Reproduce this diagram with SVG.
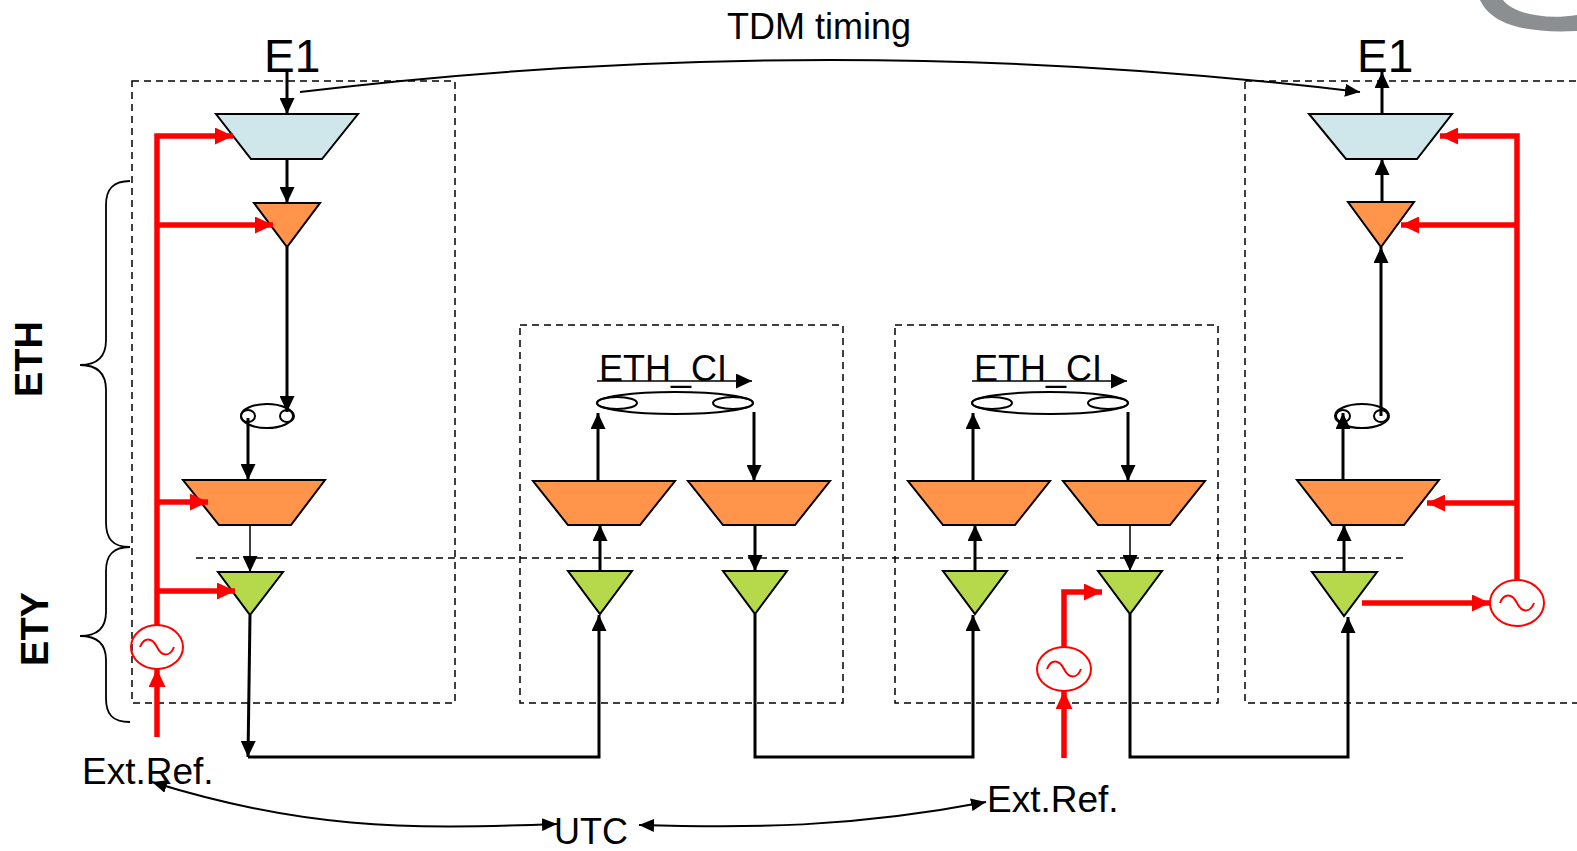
<svg xmlns="http://www.w3.org/2000/svg" width="1577" height="851" viewBox="0 0 1577 851">
<style>
.blk{stroke:#000;stroke-width:3;fill:none}
.thin{stroke:#000;stroke-width:1.5;fill:none}
.cur{stroke:#000;stroke-width:2;fill:none}
.red{stroke:#f00;stroke-width:5.5;fill:none}
.dash{stroke:#000;stroke-width:1.5;stroke-dasharray:7 5;fill:none}
.shape{stroke:#000;stroke-width:2;stroke-linejoin:miter}
.adapt{fill:#CFE7EB}
.orange{fill:#FF944A}
.green{fill:#B5D94A}
.ell{fill:none;stroke:#000;stroke-width:2}
.osc{fill:none;stroke:#f00;stroke-width:2}
.lbl{font-family:"Liberation Sans",Arial,sans-serif;fill:#000}
.brace{fill:none;stroke:#000;stroke-width:1.8}
</style>
<defs>
<marker id="ab" viewBox="0 0 16 15" refX="16" refY="7.5" markerWidth="16" markerHeight="15" orient="auto" markerUnits="userSpaceOnUse"><path d="M0,0 L16,7.5 L0,15 z" fill="#000"/></marker>
<marker id="ar" viewBox="0 0 18 17" refX="18" refY="8.5" markerWidth="18" markerHeight="17" orient="auto" markerUnits="userSpaceOnUse"><path d="M0,0 L18,8.5 L0,17 z" fill="#f00"/></marker>
<marker id="as" viewBox="0 0 15 13" refX="15" refY="6.5" markerWidth="15" markerHeight="13" orient="auto-start-reverse" markerUnits="userSpaceOnUse"><path d="M0,0 L15,6.5 L0,13 z" fill="#000"/></marker>
<path id="sine" d="M-17,0 C-13,-10 -5,-10 0,0 C5,10 13,10 17,0"/>
</defs>
<rect width="1577" height="851" fill="#fff"/>

<!-- decorative gray swoosh top right -->
<path d="M1480,0 C1490,22 1520,34 1577,31 L1577,15 C1545,20 1514,14 1503,0 Z" fill="#8C8F92"/>

<!-- frames -->
<g id="frames">
<rect class="dash" x="132" y="81" width="323" height="622"/>
<rect class="dash" x="520" y="325" width="323" height="378"/>
<rect class="dash" x="895" y="325" width="323" height="378"/>
<rect class="dash" x="1245" y="81" width="360" height="622"/>
<path class="dash" d="M196,558 H1408"/>
</g>

<!-- braces and layer labels -->
<g id="layer-eth">
<path class="brace" d="M130,181 C112,181 106,190 106,205 V340 C106,356 98,365 80,365 C98,365 106,374 106,390 V522 C106,538 112,547 130,547"/>
<text class="lbl" x="42" y="359" font-size="38" font-weight="bold" text-anchor="middle" transform="rotate(-90 42 359)">ETH</text>
</g>
<g id="layer-ety">
<path class="brace" d="M130,547 C112,547 106,556 106,571 V612 C106,628 98,636 80,636 C98,636 106,644 106,660 V698 C106,714 112,722 130,722"/>
<text class="lbl" x="48" y="629" font-size="38" font-weight="bold" text-anchor="middle" transform="rotate(-90 48 629)">ETY</text>
</g>

<!-- left block nodes -->
<g id="L-e1"><text class="lbl" x="264" y="72" font-size="46">E1</text></g>
<g id="L-adapt"><polygon class="shape adapt" points="216,114 358,114 322,159 251,159"/></g>
<g id="L-tri"><polygon class="shape orange" points="254,203 320,203 287,247"/></g>
<g id="L-ci">
<ellipse class="ell" cx="267" cy="416" rx="26" ry="12"/>
<ellipse class="ell" cx="248" cy="416" rx="7" ry="6"/>
<ellipse class="ell" cx="287" cy="416" rx="7" ry="6"/>
</g>
<g id="L-trap"><polygon class="shape orange" points="183,480 325,480 291,525 219,525"/></g>
<g id="L-green"><polygon class="shape green" points="218,572 283,572 250,615"/></g>
<g id="L-osc" transform="translate(157,647)"><ellipse class="osc" rx="26" ry="22"/><use href="#sine" class="osc"/></g>

<!-- middle box 1 -->
<g id="M1-label"><text class="lbl" x="599" y="381" font-size="36">ETH_CI</text></g>
<g id="M1-ci">
<ellipse class="ell" cx="675" cy="403" rx="78" ry="11"/>
<ellipse class="ell" cx="617" cy="403" rx="20" ry="6"/>
<ellipse class="ell" cx="733" cy="403" rx="20" ry="6"/>
</g>
<g id="M1-trapL"><polygon class="shape orange" points="533,481 675,481 640,525 568,525"/></g>
<g id="M1-trapR"><polygon class="shape orange" points="688,481 830,481 795,525 723,525"/></g>
<g id="M1-greenL"><polygon class="shape green" points="568,571 632,571 600,614"/></g>
<g id="M1-greenR"><polygon class="shape green" points="723,571 787,571 755,614"/></g>

<!-- middle box 2 -->
<g id="M2-label"><text class="lbl" x="974" y="381" font-size="36">ETH_CI</text></g>
<g id="M2-ci">
<ellipse class="ell" cx="1050" cy="403" rx="78" ry="11"/>
<ellipse class="ell" cx="992" cy="403" rx="20" ry="6"/>
<ellipse class="ell" cx="1108" cy="403" rx="20" ry="6"/>
</g>
<g id="M2-trapL"><polygon class="shape orange" points="908,481 1050,481 1015,525 943,525"/></g>
<g id="M2-trapR"><polygon class="shape orange" points="1063,481 1205,481 1170,525 1098,525"/></g>
<g id="M2-greenL"><polygon class="shape green" points="943,571 1007,571 975,614"/></g>
<g id="M2-greenR"><polygon class="shape green" points="1098,571 1162,571 1130,614"/></g>
<g id="M2-osc" transform="translate(1064,669)"><ellipse class="osc" rx="27" ry="22"/><use href="#sine" class="osc"/></g>

<!-- right block -->
<g id="R-e1"><text class="lbl" x="1357" y="72" font-size="46">E1</text></g>
<g id="R-adapt"><polygon class="shape adapt" points="1309,114 1452,114 1417,159 1346,159"/></g>
<g id="R-tri"><polygon class="shape orange" points="1348,202 1414,202 1381,247"/></g>
<g id="R-ci">
<ellipse class="ell" cx="1362" cy="416" rx="27" ry="12"/>
<ellipse class="ell" cx="1343" cy="416" rx="7" ry="6"/>
<ellipse class="ell" cx="1381" cy="416" rx="7" ry="6"/>
</g>
<g id="R-trap"><polygon class="shape orange" points="1297,480 1439,480 1404,525 1332,525"/></g>
<g id="R-green"><polygon class="shape green" points="1312,572 1377,572 1344,616"/></g>
<g id="R-osc" transform="translate(1517,603)"><ellipse class="osc" rx="27" ry="23"/><use href="#sine" class="osc"/></g>

<!-- free labels -->
<g id="tdm-label"><text class="lbl" x="727" y="39" font-size="36">TDM timing</text></g>
<g id="extref-left"><text class="lbl" x="82" y="784" font-size="37">Ext.Ref.</text></g>
<g id="utc"><text class="lbl" x="554" y="844" font-size="36">UTC</text></g>
<g id="extref-right"><text class="lbl" x="987" y="812" font-size="37">Ext.Ref.</text></g>

<!-- connectors -->
<g id="connectors">
<!-- left block -->
<path class="blk" d="M287,72 V114" marker-end="url(#ab)"/>
<path class="blk" d="M287,159 V203" marker-end="url(#ab)"/>
<path class="blk" d="M287,247 V412" marker-end="url(#ab)"/>
<path class="blk" d="M248,418 V480" marker-end="url(#ab)"/>
<path class="thin" d="M250,525 V572" marker-end="url(#ab)"/>
<path class="blk" d="M250,615 L248,757" marker-end="url(#ab)"/>
<path class="blk" d="M248,757 H599 V615" marker-end="url(#ab)"/>
<!-- box 1 -->
<path class="thin" d="M597,381 H752" stroke-width="2" marker-end="url(#ab)"/>
<path class="blk" d="M598,481 V413" marker-end="url(#ab)"/>
<path class="blk" d="M754,412 V481" marker-end="url(#ab)"/>
<path class="blk" d="M600,571 V525" marker-end="url(#ab)"/>
<path class="blk" d="M755,525 V571" marker-end="url(#ab)"/>
<path class="blk" d="M755,614 V757 H973 V615" marker-end="url(#ab)"/>
<!-- box 2 -->
<path class="thin" d="M972,381 H1127" stroke-width="2" marker-end="url(#ab)"/>
<path class="blk" d="M973,481 V413" marker-end="url(#ab)"/>
<path class="blk" d="M1128,412 V481" marker-end="url(#ab)"/>
<path class="blk" d="M975,571 V525" marker-end="url(#ab)"/>
<path class="thin" d="M1130,525 V571" marker-end="url(#ab)"/>
<path class="blk" d="M1130,614 V757 H1348 V617" marker-end="url(#ab)"/>
<!-- right block -->
<path class="blk" d="M1344,572 V525" marker-end="url(#ab)"/>
<path class="blk" d="M1343,480 V413" marker-end="url(#ab)"/>
<path class="blk" d="M1381,416 V247" marker-end="url(#ab)"/>
<path class="blk" d="M1382,202 V159" marker-end="url(#ab)"/>
<path class="blk" d="M1382,114 V72" marker-end="url(#ab)"/>
<!-- TDM timing and UTC -->
<path class="cur" d="M300,92 Q830,28 1360,92" marker-end="url(#as)"/>
<path class="cur" d="M557,824 C400,830 300,828 152,782" marker-start="url(#as)" marker-end="url(#as)"/>
<path class="cur" d="M639,825 C750,828 850,828 986,802" marker-start="url(#as)" marker-end="url(#as)"/>
<!-- red timing -->
<path class="red" d="M157,625 V136 H233" marker-end="url(#ar)"/>
<path class="red" d="M157,225 H273" marker-end="url(#ar)"/>
<path class="red" d="M157,502 H208" marker-end="url(#ar)"/>
<path class="red" d="M157,591 H235" marker-end="url(#ar)"/>
<path class="red" d="M157,737 V669" marker-end="url(#ar)"/>
<path class="red" d="M1064,758 V691" marker-end="url(#ar)"/>
<path class="red" d="M1064,647 V592 H1102" marker-end="url(#ar)"/>
<path class="red" d="M1517,580 V136 H1440" marker-end="url(#ar)"/>
<path class="red" d="M1517,225 H1401" marker-end="url(#ar)"/>
<path class="red" d="M1517,503 H1427" marker-end="url(#ar)"/>
<path class="red" d="M1362,603 H1490" marker-end="url(#ar)"/>
</g>
</svg>
